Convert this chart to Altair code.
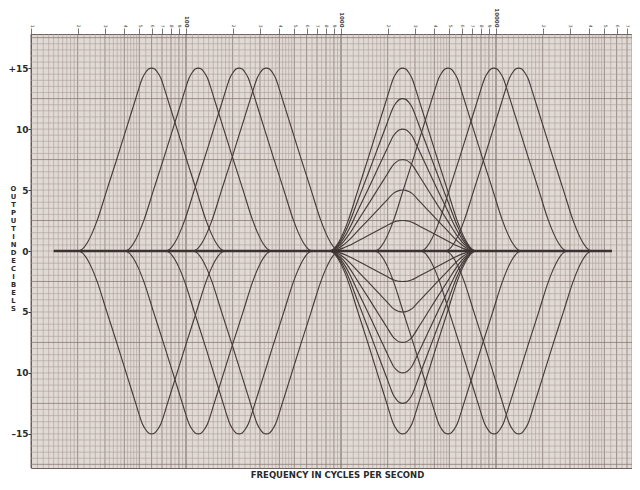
import altair as alt
import pandas as pd

# ---- values ----
# centre frequencies (Hz) of the curves that swing the full +15 / -15 dB
full_centres_hz = [60, 120, 220, 330, 4900, 9700, 14000]
full_gains_db = [15, -15]
# the mid-band position drawn at six boost and six cut settings
mid_centre_hz = 2500
mid_gains_db = [2.5, 5, 7.5, 10, 12.5, 15, -2.5, -5, -7.5, -10, -12.5, -15]
# one flank of the bell:
# distance from centre (decades) and fraction of the curve's full gain
shape_offset_dec = [0, 0.02, 0.04, 0.06, 0.08, 0.10, 0.15, 0.22, 0.29, 0.35, 0.385, 0.415, 0.445, 0.47]
shape_fraction = [1, 0.995, 0.975, 0.945, 0.895, 0.84, 0.705, 0.515, 0.33, 0.17, 0.095, 0.045, 0.012, 0]
# flat (0 dB) response line
flat_freq_hz = [14, 56000]
flat_db = [0, 0]

# top axis ticks and graph-paper rulings
decades_hz = [10, 100, 1000, 10000]
major_mantissas = [1, 2, 3, 4, 5, 6, 7, 8, 9]
minor_mantissas = [1.1, 1.2, 1.3, 1.4, 1.5, 1.6, 1.7, 1.8, 1.9,
                   2.2, 2.4, 2.6, 2.8, 3.2, 3.4, 3.6, 3.8, 4.2, 4.4, 4.6, 4.8,
                   5.5, 6.5, 7.5, 8.5, 9.5]
y_label_values = [-15, -10, -5, 0, 5, 10, 15]
y_minor_step_db = 0.5
y_heavy_db = [-17.5, -12.5, -7.5, -2.5, 2.5, 7.5, 12.5, 17.5]

X_MAX = 75400

# ---- build tables ----
profile = [(-o, v) for o, v in reversed(list(zip(shape_offset_dec, shape_fraction))[1:])] + \
          list(zip(shape_offset_dec, shape_fraction))

rows = []
def add_curve(name, centre, gain):
    for i, (o, v) in enumerate(profile):
        rows.append({"curve": name, "order": i, "f": centre * 10 ** o, "db": gain * v})

for c in full_centres_hz:
    for g in full_gains_db:
        add_curve(f"{c}_{g}", c, g)
for g in mid_gains_db:
    add_curve(f"{mid_centre_hz}_{g}", mid_centre_hz, g)
curves = pd.DataFrame(rows)

flat = pd.DataFrame({"f": flat_freq_hz, "db": flat_db})

top_ticks = [m * d for d in decades_hz for m in major_mantissas if m * d <= X_MAX]
vrows = []
for d in decades_hz:
    for m in minor_mantissas:
        if m * d <= X_MAX:
            vrows.append({"f": m * d, "kind": "minor"})
    for m in major_mantissas:
        if m * d <= X_MAX:
            vrows.append({"f": m * d, "kind": "decade" if m == 1 else "major"})
vgrid = pd.DataFrame(vrows)

hrows = []
n = int(17.5 / y_minor_step_db)
for k in range(-n, n + 1):
    v = k * y_minor_step_db
    hrows.append({"db": v, "kind": "major" if v in y_heavy_db else "minor"})
hgrid = pd.DataFrame(hrows)

x_scale = alt.Scale(type="log", domain=[10, X_MAX], nice=False)
y_scale = alt.Scale(domain=[-17.8, 17.8], nice=False, zero=False)

label_expr_top = ("indexof([100,1000,10000], datum.value) >= 0 ? format(datum.value, 'd') : "
                  "format(datum.value / pow(10, floor(log(datum.value) / LN10 + 1e-6)), 'd')")
decade_test = "indexof([100,1000,10000], datum.value) >= 0"

title_letters = list("OUTPUT") + [" "] + list("IN") + [" "] + list("DECIBELS")

x_axis = alt.Axis(orient="top", values=top_ticks, labelExpr=label_expr_top,
                  title=None, grid=False, domain=False,
                  tickSize=6, tickColor="#555555", tickWidth=0.8,
                  labelAngle=90, labelAlign="right", labelBaseline="middle",
                  labelPadding=1, labelOverlap=False, labelBound=False, labelFlush=False,
                  labelFont="DejaVu Sans", labelColor="#444444",
                  labelFontSize={"condition": {"test": decade_test, "value": 5.5}, "value": 4.5},
                  labelFontWeight={"condition": {"test": decade_test, "value": "bold"}, "value": "normal"})

y_axis = alt.Axis(values=y_label_values,
                  labelExpr="datum.value == 15 ? '+15' : datum.value == -15 ? '\u201315' : format(abs(datum.value), 'd')",
                  grid=False, domain=False, tickSize=3, tickColor="#333333",
                  labelFont="DejaVu Sans", labelFontWeight="bold", labelFontSize=9,
                  labelColor="#2a2a2a", labelPadding=0,
                  title=title_letters, titleAngle=0, titleX=-18, titleY=151,
                  titleAlign="center", titleBaseline="top",
                  titleFont="DejaVu Sans", titleFontWeight="bold", titleFontSize=6.8,
                  titleColor="#2a2a2a", titleLineHeight=8)

grid_color = alt.Color("kind:N", legend=None,
                       scale=alt.Scale(domain=["minor", "major", "decade"],
                                       range=["#ab9e99", "#84756f", "#625450"]))
grid_width = alt.StrokeWidth("kind:N", legend=None,
                             scale=alt.Scale(domain=["minor", "major", "decade"],
                                             range=[0.6, 0.9, 1.2]))

vlines = alt.Chart(vgrid).mark_rule().encode(
    x=alt.X("f:Q", scale=x_scale, axis=x_axis),
    color=grid_color, strokeWidth=grid_width)

hlines = alt.Chart(hgrid).mark_rule().encode(
    y=alt.Y("db:Q", scale=y_scale, axis=y_axis),
    color=grid_color, strokeWidth=grid_width)

curve_layer = alt.Chart(curves).mark_line(
    interpolate="monotone", color="#463b39", strokeWidth=1.15
).encode(
    x=alt.X("f:Q", scale=x_scale, axis=x_axis),
    y=alt.Y("db:Q", scale=y_scale, axis=y_axis),
    detail="curve:N",
    order="order:Q",
)

flat_layer = alt.Chart(flat).mark_line(color="#3a3130", strokeWidth=2.4).encode(
    x=alt.X("f:Q", scale=x_scale, axis=x_axis),
    y=alt.Y("db:Q", scale=y_scale, axis=y_axis),
)

chart = alt.layer(vlines, hlines, curve_layer, flat_layer).properties(
    width=601, height=434,
    padding={"left": 23, "top": 26, "right": 0, "bottom": 14},
    autosize=alt.AutoSizeParams(type="none"),
    background="white",
    title=alt.TitleParams("FREQUENCY IN CYCLES PER SECOND", orient="bottom", anchor="middle",
                          font="DejaVu Sans", fontWeight="bold", fontSize=8.5,
                          color="#2a2a2a", offset=3, dx=6),
).resolve_scale(color="independent", strokeWidth="independent"
).configure_view(fill="#e1d9d4", stroke="#6f625e", strokeWidth=1)

chart.save("out.html", embed_options={"renderer": "svg", "actions": False})
